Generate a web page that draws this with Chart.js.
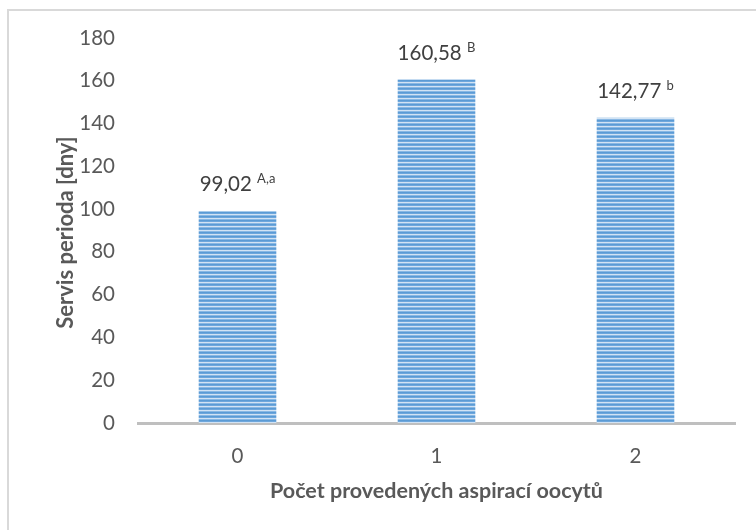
<!DOCTYPE html>
<html>
<head>
<meta charset="utf-8">
<script src="https://cdn.jsdelivr.net/npm/chart.js@4"></script>
<style>
  html, body { margin: 0; padding: 0; background: #fff; }
  #wrap { position: relative; width: 756px; height: 530px; overflow: hidden; }
  #frame { position: absolute; left: 7px; top: 9px; width: 760px; height: 530px;
           border-left: 2px solid #d9d9d9; border-top: 2px solid #d9d9d9; }
  canvas { position: absolute; left: 0; top: 0; }
</style>
</head>
<body>
<div id="wrap">
  <div id="frame"></div>
  <canvas id="c" width="756" height="530"></canvas>
</div>
<script>
const categories = ['0', '1', '2'];
const servisPerioda = [99.02, 160.58, 142.77];
const valueLabels = ['99,02', '160,58', '142,77'];
const superscripts = ['A,a', 'B', 'b'];
const yTicks = [0, 20, 40, 60, 80, 100, 120, 140, 160, 180];
const xTitle = 'Počet provedených aspirací oocytů';
const yTitle = 'Servis perioda [dny]';

const FONT = 'Lato, "Open Sans", sans-serif';

function stripePattern() {
  const p = document.createElement('canvas');
  p.width = 4; p.height = 4;
  const g = p.getContext('2d');
  const rows = ['#5b9bd5', '#6ea7dc', '#d2e3f4', '#89b8e4'];
  rows.forEach((c, i) => { g.fillStyle = c; g.fillRect(0, i, 4, 1); });
  return document.getElementById('c').getContext('2d').createPattern(p, 'repeat');
}

const labelPlugin = {
  id: 'valueLabels',
  afterDatasetsDraw(chart) {
    const ctx = chart.ctx;
    const meta = chart.getDatasetMeta(0);
    ctx.save();
    ctx.fillStyle = '#404040';
    ctx.textBaseline = 'alphabetic';
    meta.data.forEach((bar, i) => {
      const main = valueLabels[i];
      const sup = superscripts[i];
      ctx.font = '20.5px ' + FONT;
      const wMain = ctx.measureText(main + ' ').width;
      ctx.font = '13px ' + FONT;
      const wSup = ctx.measureText(sup).width;
      const total = wMain + wSup;
      const x0 = bar.x - total / 2;
      const yBase = bar.y - 20;
      ctx.font = '20.5px ' + FONT;
      ctx.textAlign = 'left';
      ctx.fillText(main + ' ', x0, yBase);
      ctx.font = '13px ' + FONT;
      ctx.fillText(sup, x0 + wMain, yBase - 8);
    });
    ctx.restore();
  },
  afterDraw(chart) {
    const ctx = chart.ctx;
    const area = chart.chartArea;
    ctx.save();
    ctx.setTransform(1, 0, 0, 1, 0, 0);
    ctx.translate(area.left - 72, (area.top + area.bottom) / 2 + 2);
    ctx.rotate(-Math.PI / 2);
    ctx.font = 'bold 22px ' + FONT;
    ctx.fillStyle = '#595959';
    ctx.textAlign = 'center';
    ctx.textBaseline = 'middle';
    ctx.fillText(yTitle, 0, 0);
    ctx.restore();
  }
};

new Chart(document.getElementById('c'), {
  type: 'bar',
  data: {
    labels: categories,
    datasets: [{
      data: servisPerioda,
      backgroundColor: stripePattern(),
      borderWidth: 0,
      barPercentage: 0.39,
      categoryPercentage: 1
    }]
  },
  options: {
    responsive: false,
    animation: false,
    devicePixelRatio: 1,
    layout: { padding: { left: 0, right: 21, top: 38, bottom: 0 } },
    plugins: { legend: { display: false }, tooltip: { enabled: false }, title: { display: false } },
    scales: {
      x: {
        grid: { display: false, drawTicks: false },
        border: { display: true, color: '#bfbfbf', width: 3 },
        ticks: { color: '#595959', font: { family: FONT, size: 20.5 }, padding: 21 },
        title: { display: true, text: xTitle, color: '#595959',
                 font: { family: FONT, size: 21.5, weight: 'bold' }, padding: { top: 0, bottom: 26 } },
        afterFit(s) { s.height = 107; }
      },
      y: {
        min: 0, max: 180,
        grid: { display: false, drawTicks: false },
        border: { display: false },
        afterBuildTicks(s) { s.ticks = yTicks.map(v => ({ value: v })); },
        ticks: { color: '#595959', font: { family: FONT, size: 20.5 }, padding: 23 },
        title: { display: false },
        afterFit(s) { s.width = 138; }
      }
    }
  },
  plugins: [labelPlugin]
});
</script>
</body>
</html>
